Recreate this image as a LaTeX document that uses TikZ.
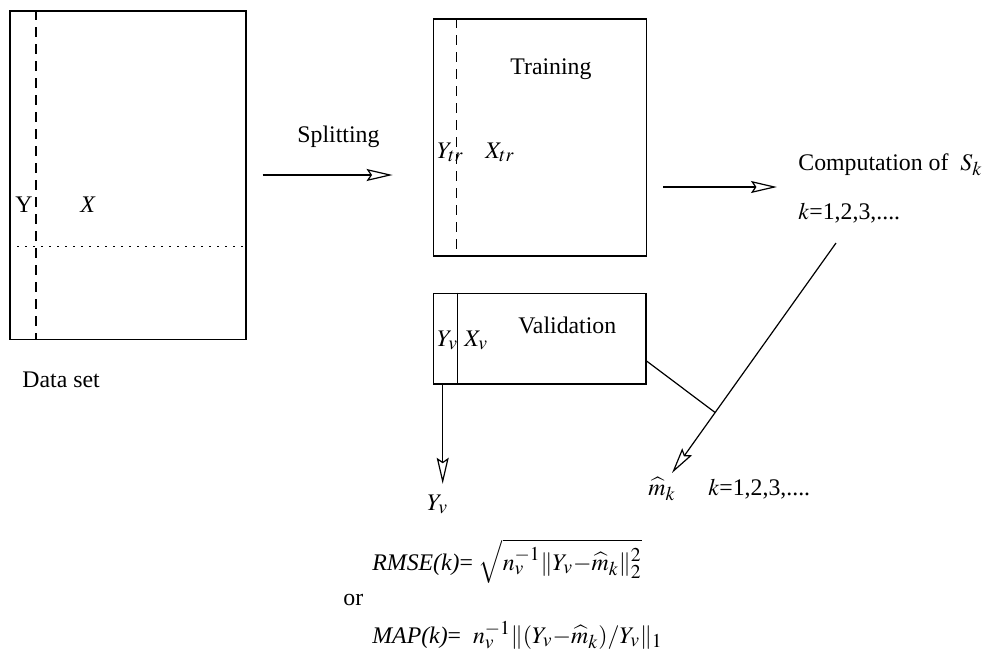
\documentclass[tikz,border=0pt]{standalone}
\usepackage{amsmath}
\usepackage{mathptmx}
\usepackage{fontspec}
\setmainfont{Liberation Serif}
\usetikzlibrary{arrows.meta,calc}
\DeclareMathSizes{11.9}{11.9}{9.8}{8}
\tikzset{
  box/.style={draw, line width=0.7pt, inner sep=0pt},
  arr/.style={-{Stealth[open, length=13pt, width=6pt, inset=2pt]}, line width=0.6pt},
  lbl/.style={anchor=base west, inner sep=0pt},
  colline/.style={line width=0.6pt, dash pattern=on 5pt off 3.5pt},
}

\begin{document}
\begin{tikzpicture}[x=0.5pt, y=-0.5pt,
  every node/.style={font=\fontsize{11.9}{14.3}\selectfont}]
  \useasboundingbox (0,0) rectangle (990,660);

  % Data set
  \node[box, minimum width=118pt, minimum height=164.2pt] (data) at (128,175) {};
  \draw[colline] ([xshift=13.3pt]data.north west) -- ([xshift=13.3pt]data.south west);
  \draw[line width=0.6pt, dash pattern=on 0.7pt off 3.3pt]
    ([yshift=46.6pt]data.south west) -- ([yshift=46.6pt]data.south east);
  \node[lbl] (ydata) at (15,212) {Y};
  \node[lbl] (xdata) at (80,212) {\textit{X}};
  \node[lbl] (dataname) at (22,387) {Data set};

  % Splitting
  \node[box, minimum width=106.7pt, minimum height=118.5pt] (train) at (540,137.5) {};
  \draw[colline] ([xshift=12pt]train.north west) -- ([xshift=12pt]train.south west);
  \node[lbl] (trainname) at (510,74) {Training};
  \node[lbl] (ytr) at (437,158) {$Y_{tr}$};
  \node[lbl] (xtr) at (485,158) {$X_{tr}$};

  \node[box, minimum width=106.3pt, minimum height=45.4pt] (valid) at (539.7,338.7) {};
  \draw[line width=0.6pt] ([xshift=12.2pt]valid.north west) -- ([xshift=12.2pt]valid.south west);
  \node[lbl] (validname) at (518,333) {Validation};
  \node[lbl] (yv) at (437,346) {$Y_v$};
  \node[lbl] (xv) at (464,346) {$X_v$};

  \node[lbl] (splitname) at (297,142) {Splitting};
  \draw[arr, shorten <=8pt, shorten >=20pt] (data.east) -- (data.east -| train.west);

  % Computation
  \node[lbl] (comp) at (798,170) {Computation of\ \ $S_k$};
  \node[lbl] (ks) at (798,219) {$k$=1,2,3,....};
  \coordinate (compin) at (777,187);
  \draw[arr, shorten <=8pt] (train.east |- compin) -- (compin);

  % Estimates
  \node[lbl] (mhat) at (648,495) {$\widehat{m}_k$};
  \node[lbl] (ksb) at (708,495) {$k$=1,2,3,....};
  \coordinate (diagtop) at (836,243);
  \coordinate (diagend) at (672,473);
  \coordinate (join) at ($(diagtop)!0.737!(diagend)$);
  \draw[arr] (diagtop) -- (diagend);
  \draw[line width=0.6pt] ([yshift=-11.2pt]valid.east) -- (join);

  % Errors
  \node[lbl] (yvout) at (427,510) {$Y_v$};
  \draw[arr] ([xshift=5pt]valid.south west) -- ++(0,99);
  \node[lbl] (rmse) at (372,570)
    {\textit{RMSE(k)}=\ $\sqrt{n_v^{-1}\|Y_v{-}\widehat{m}_k\|_2^2}$};
  \node[lbl] (orword) at (343,605) {or};
  \node[lbl] (map) at (372,643)
    {\textit{MAP(k)}=\ \ $n_v^{-1}\|(Y_v{-}\widehat{m}_k)/Y_v\|_1$};
\end{tikzpicture}
\end{document}
